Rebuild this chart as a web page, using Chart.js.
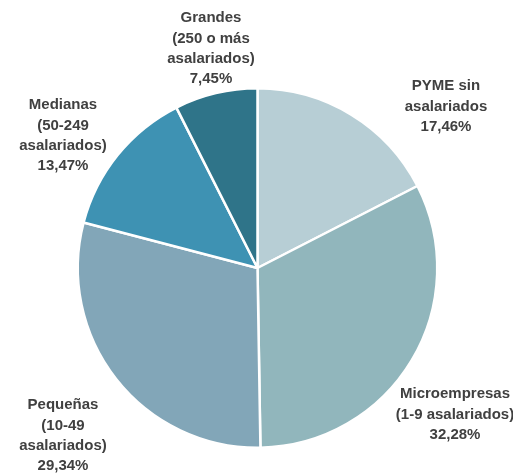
<!DOCTYPE html>
<html>
<head>
<meta charset="utf-8">
<script src="https://cdn.jsdelivr.net/npm/chart.js@4"></script>
<style>
  html, body { margin: 0; padding: 0; background: #ffffff; }
  #wrap { width: 513px; height: 474px; position: relative; }
</style>
</head>
<body>
<div id="wrap"><canvas id="chartArea" width="513" height="474"></canvas></div>
<script>
'use strict'
// data
const categories = [
    ['PYME sin', 'asalariados'],
    ['Microempresas', '(1-9 asalariados)'],
    ['Pequeñas', '(10-49', 'asalariados)'],
    ['Medianas', '(50-249', 'asalariados)'],
    ['Grandes', '(250 o más', 'asalariados)']
];
const shares = [17.46, 32.28, 29.34, 13.47, 7.45];
const sliceColors = ['#b7ced5', '#91b6bc', '#82a6b8', '#3e92b3', '#2f7489'];

// where each label block sits (center x, first line y)
const labelSpots = [
    [446, 86], [455, 394], [63, 405], [63, 105], [211, 18]
];

let fmt = function(v) {
    return v.toFixed(2).replace('.', ',') + '%';
};

const outerLabels = {
    id: 'outerLabels',
    afterDraw(chart) {
        let ctx = chart.ctx;
        ctx.save();
        ctx.font = 'bold 15px "Liberation Sans", Arial, sans-serif';
        ctx.fillStyle = '#404040';
        ctx.textAlign = 'center';
        ctx.textBaseline = 'middle';
        let vals = chart.data.datasets[0].data;
        for (let i = 0; i < vals.length; i++) {
            let lines = chart.data.labels[i].concat([fmt(vals[i])]);
            let x = labelSpots[i][0];
            let y = labelSpots[i][1];
            for (let k = 0; k < lines.length; k++) {
                ctx.fillText(lines[k], x, y + k * 20.4);
            }
        }
        ctx.restore();
    }
};

let ctx = document.getElementById('chartArea').getContext('2d');
let chart = new Chart(ctx, {
    type: 'pie',
    data: {
        labels: categories,
        datasets: [{
            data: shares,
            backgroundColor: sliceColors,
            borderColor: '#ffffff',
            borderWidth: 2.5
        }]
    },
    options: {
        responsive: false,
        animation: false,
        layout: { padding: { top: 87, bottom: 25, left: 76, right: 74 } },
        plugins: {
            legend: { display: false },
            tooltip: { enabled: false }
        }
    },
    plugins: [outerLabels]
});
</script>
</body>
</html>
